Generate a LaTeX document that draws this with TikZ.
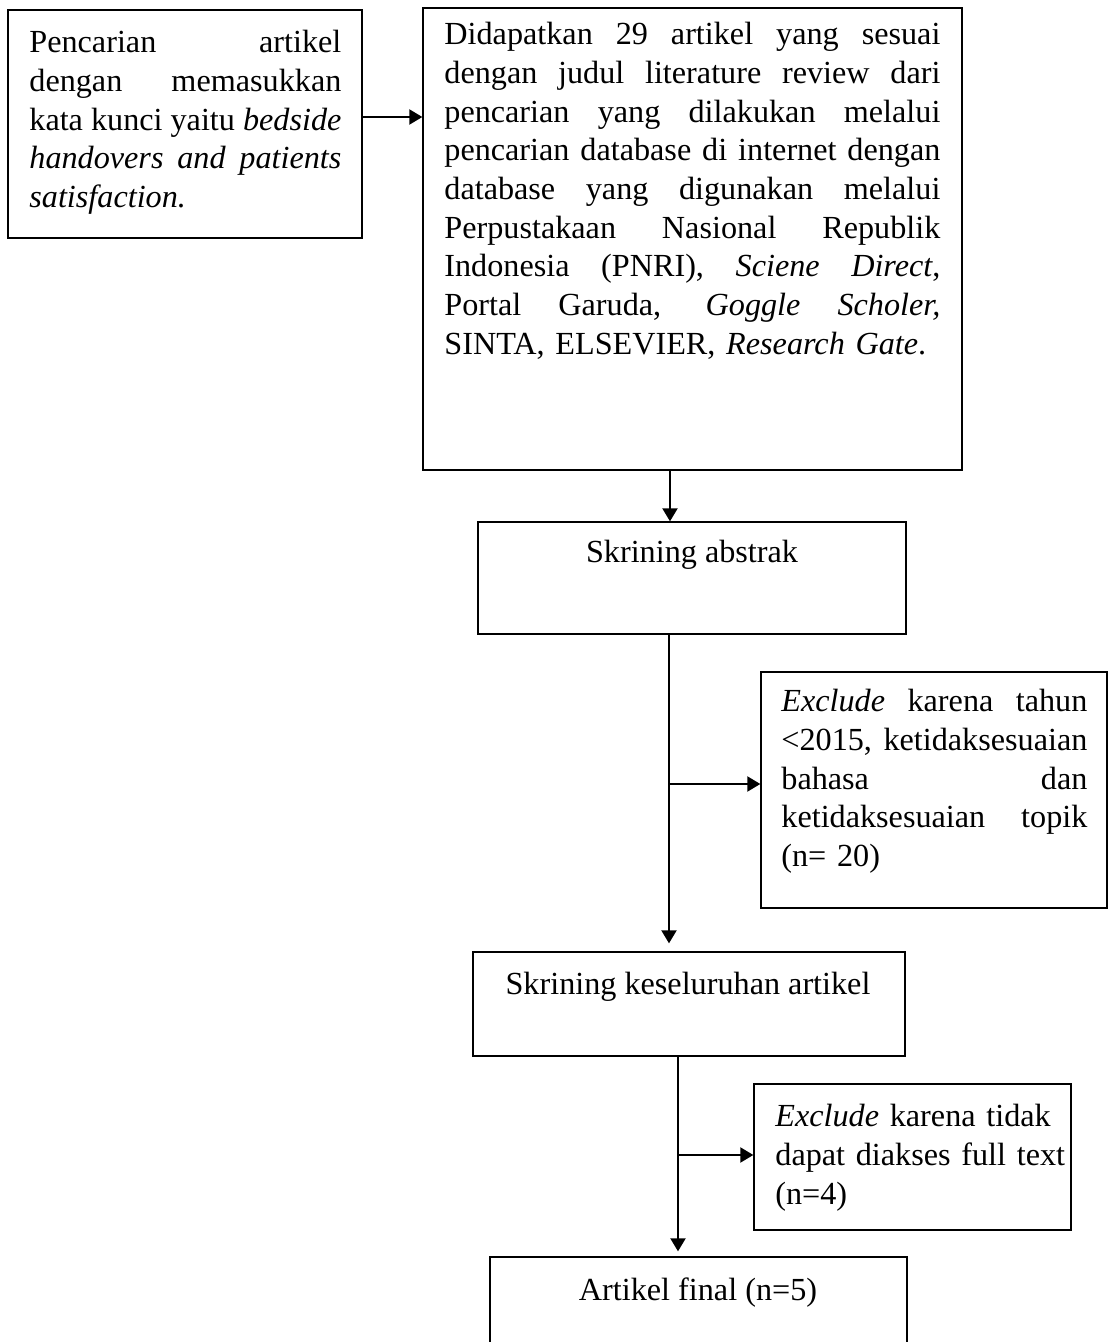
\documentclass[tikz,border=0pt]{standalone}
\usepackage{fontspec}
\setmainfont{Liberation Serif}
\usetikzlibrary{arrows.meta,fit}
\newcommand{\jln}[2]{\makebox[#1][s]{\spaceskip=.25em plus 3em minus .03em\xspaceskip=\spaceskip #2}}
\begin{document}
\begin{tikzpicture}[x=0.5pt,y=-0.5pt,
  boxnode/.style={draw=black,line width=0.65pt,inner sep=0pt,fill=none},
  txt/.style={inner sep=0pt,anchor=north west,align=left,
    font=\fontsize{16.1pt}{19.35pt}\selectfont},
  ctxt/.style={inner sep=0pt,anchor=base,font=\fontsize{16.1pt}{19.35pt}\selectfont},
  arr/.style={line width=1pt,-{Triangle[length=6.5pt,width=7.5pt]}}]
\useasboundingbox (0,0) rectangle (1112,1342);
\clip (0,0) rectangle (1112,1342);
% boxes
\node[boxnode,fit={(8,10) (362,238)}] (A) {};
\node[boxnode,fit={(423,8) (962,470)}] (B) {};
\node[boxnode,fit={(478,522) (906,634)}] (C) {};
\node[boxnode,fit={(761,672) (1107,908)}] (D) {};
\node[boxnode,fit={(473,952) (905,1056)}] (E) {};
\node[boxnode,fit={(754,1084) (1071,1230)}] (F) {};
\node[boxnode,fit={(490,1257) (907,1400)}] (G) {};
% texts
\node[txt,text width=156pt] (At) at (29,30) {%
\jln{156pt}{Pencarian artikel}\\
\jln{156pt}{dengan memasukkan}\\
\jln{156pt}{kata kunci yaitu \textit{bedside}}\\
\jln{156pt}{\textit{handovers and patients}}\\
\textit{satisfaction.}};
\node[txt,text width=248pt] (Bt) at (444,22) {%
\jln{248pt}{Didapatkan 29 artikel yang sesuai}\\
\jln{248pt}{dengan judul literature review dari}\\
\jln{248pt}{pencarian yang dilakukan melalui}\\
\jln{248pt}{pencarian database di internet dengan}\\
\jln{248pt}{database yang digunakan melalui}\\
\jln{248pt}{Perpustakaan Nasional Republik}\\
\jln{248pt}{Indonesia (PNRI), \textit{Sciene Direct},}\\
\jln{248pt}{Portal Garuda, \textit{Goggle Scholer,}}\\
SINTA, ELSEVIER, \textit{Research Gate}.};
\node[ctxt] (Ct) at (692,562) {Skrining abstrak};
\node[txt,text width=153pt] (Dt) at (781,689) {%
\jln{153pt}{\textit{Exclude} karena tahun}\\
\jln{153pt}{<2015, ketidaksesuaian}\\
\jln{153pt}{bahasa dan}\\
\jln{153pt}{ketidaksesuaian topik}\\
(n= 20)};
\node[ctxt] (Et) at (688,994) {Skrining keseluruhan artikel};
\node[txt,text width=150pt] (Ft) at (775,1104) {%
\textit{Exclude} karena tidak\\
dapat diakses full text\\
(n=4)};
\node[ctxt] (Gt) at (698,1300) {Artikel final (n=5)};
% connectors
\coordinate (a1) at ([yshift=3.5pt]A.east);
\draw[arr] (a1) -- (a1 -| B.west);
\coordinate (j1) at (670,0);
\draw[arr] (j1 |- B.south) -- (j1 |- C.north);
\coordinate (j2) at (669,784);
\draw[arr,shorten >=4pt] (j2 |- C.south) -- (j2 |- E.north);
\draw[arr] (j2) -- (j2 -| D.west);
\coordinate (j3) at (678,1155);
\draw[arr,shorten >=2.5pt] (j3 |- E.south) -- (j3 |- G.north);
\draw[arr] (j3) -- (j3 -| F.west);
\end{tikzpicture}
\end{document}
